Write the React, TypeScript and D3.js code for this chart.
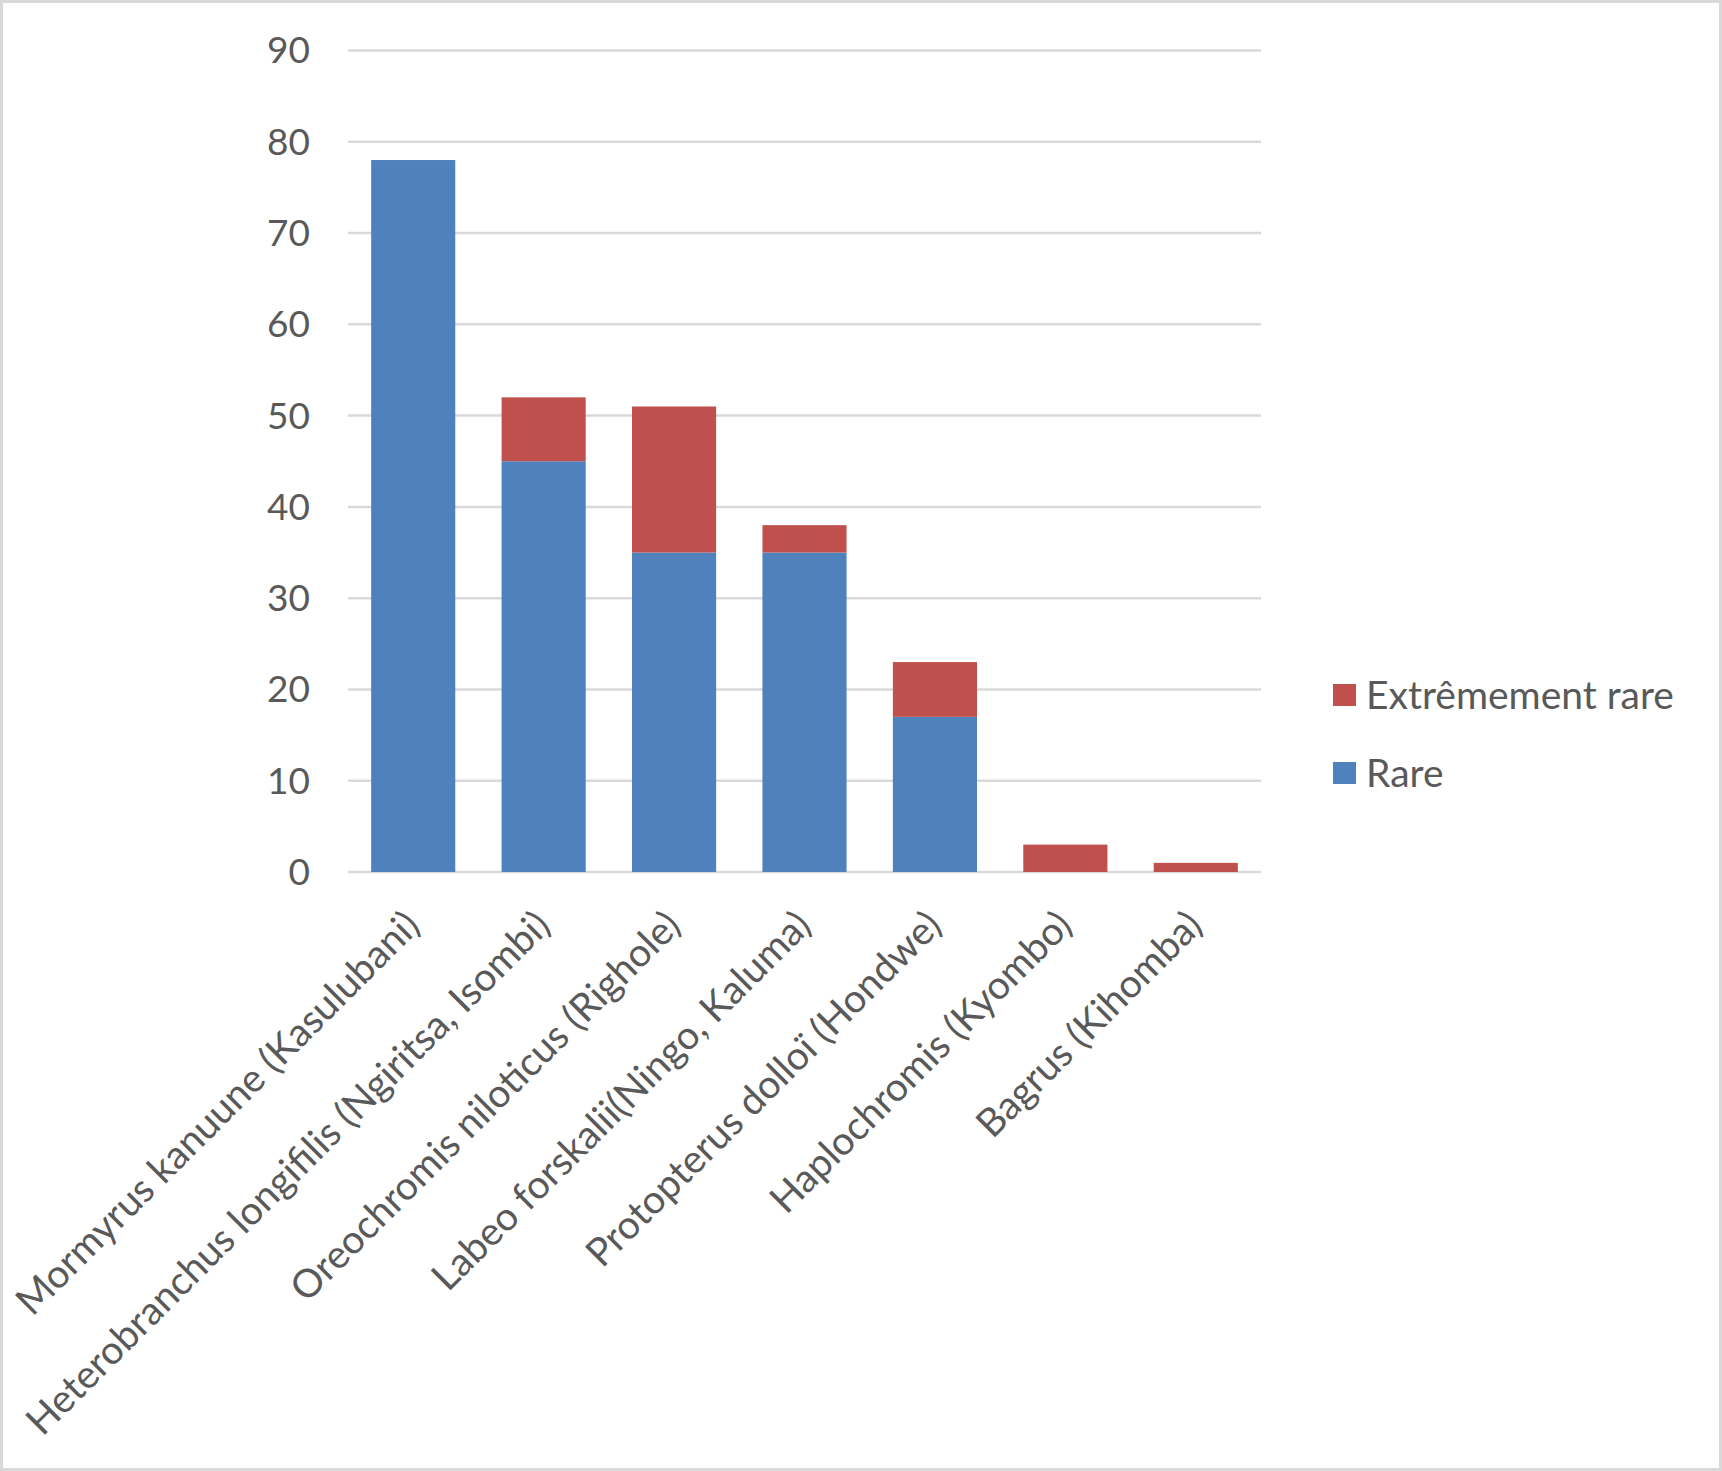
import React, { useEffect, useRef } from 'react';
import * as d3 from 'd3';

// Species and counts per rarity class
const species = [
    'Mormyrus kanuune (Kasulubani)',
    'Heterobranchus longifilis (Ngiritsa, Isombi)',
    'Oreochromis niloticus (Righole)',
    'Labeo forskalii(Ningo, Kaluma)',
    'Protopterus dolloï (Hondwe)',
    'Haplochromis (Kyombo)',
    'Bagrus (Kihomba)',
];
const rare = [78, 45, 35, 35, 17, 0, 0];
const extremementRare = [0, 7, 16, 3, 6, 3, 1];
const yTicks = [0, 10, 20, 30, 40, 50, 60, 70, 80, 90];

const seriesNames = ['Rare', 'Extrêmement rare'];
const seriesColors = ['#4F81BD', '#C0504D'];

const FONT = 'Lato, "Open Sans", sans-serif';
const TEXT = '#595959';

const App = () => {
    const svgRef = useRef<SVGSVGElement>(null);

    useEffect(() => {
        const svg = d3.select(svgRef.current);
        svg.selectAll('*').remove();

        const width = 1722;
        const height = 1471;
        const plot = { left: 348, right: 1261, top: 50.5, bottom: 872 };

        // chart frame
        svg.append('rect')
            .attr('x', 1.5).attr('y', 1.5)
            .attr('width', width - 3).attr('height', height - 3)
            .attr('fill', '#fff')
            .attr('stroke', '#D9D9D9')
            .attr('stroke-width', 3);

        const x = d3.scaleBand()
            .domain(species)
            .range([plot.left, plot.right])
            .paddingInner(0.355)
            .paddingOuter(0.1775);

        const y = d3.scaleLinear()
            .domain([0, 90])
            .range([plot.bottom, plot.top]);

        // gridlines + value labels
        const grid = svg.append('g');
        grid.selectAll('line')
            .data(yTicks)
            .enter()
            .append('line')
            .attr('x1', plot.left).attr('x2', plot.right)
            .attr('y1', d => y(d)).attr('y2', d => y(d))
            .attr('stroke', '#D9D9D9')
            .attr('stroke-width', 2.5);

        grid.selectAll('text')
            .data(yTicks)
            .enter()
            .append('text')
            .attr('x', 310)
            .attr('y', d => y(d))
            .attr('dy', '0.35em')
            .attr('text-anchor', 'end')
            .attr('font-family', FONT)
            .attr('font-size', 37)
            .attr('fill', TEXT)
            .text(d => d);

        // stacked bars
        const rows = species.map((name, i) => ({ name, Rare: rare[i], 'Extrêmement rare': extremementRare[i] }));
        const stacked = d3.stack<any>().keys(seriesNames)(rows);

        svg.append('g')
            .selectAll('g')
            .data(stacked)
            .enter()
            .append('g')
            .attr('fill', (_, i) => seriesColors[i])
            .selectAll('rect')
            .data(d => d.filter(s => s[1] - s[0] > 0))
            .enter()
            .append('rect')
            .attr('x', d => x(d.data.name)!)
            .attr('y', d => y(d[1]))
            .attr('width', x.bandwidth())
            .attr('height', d => y(d[0]) - y(d[1]));

        // category labels, rotated
        svg.append('g')
            .selectAll('text')
            .data(species)
            .enter()
            .append('text')
            .attr('transform', d => `translate(${x(d)! + x.bandwidth() / 2 - 1},${plot.bottom + 46}) rotate(-45)`)
            .attr('dy', '0.35em')
            .attr('text-anchor', 'end')
            .attr('font-family', FONT)
            .attr('font-size', 39)
            .attr('fill', TEXT)
            .text(d => d);

        // legend (stack order reversed)
        const legend = svg.append('g');
        const legendItems = [
            { name: 'Extrêmement rare', color: seriesColors[1], cy: 695 },
            { name: 'Rare', color: seriesColors[0], cy: 773 },
        ];
        legendItems.forEach(item => {
            legend.append('rect')
                .attr('x', 1333).attr('y', item.cy - 11)
                .attr('width', 23).attr('height', 22)
                .attr('fill', item.color);
            legend.append('text')
                .attr('x', 1366).attr('y', item.cy)
                .attr('dy', '0.35em')
                .attr('font-family', FONT)
                .attr('font-size', 39)
                .attr('fill', TEXT)
                .text(item.name);
        });
    }, []);

    return (
        <div style={{ position: 'absolute', left: 0, top: 0 }}>
            <svg ref={svgRef} width={1722} height={1471} style={{ display: 'block' }}></svg>
        </div>
    );
};

export default App;
